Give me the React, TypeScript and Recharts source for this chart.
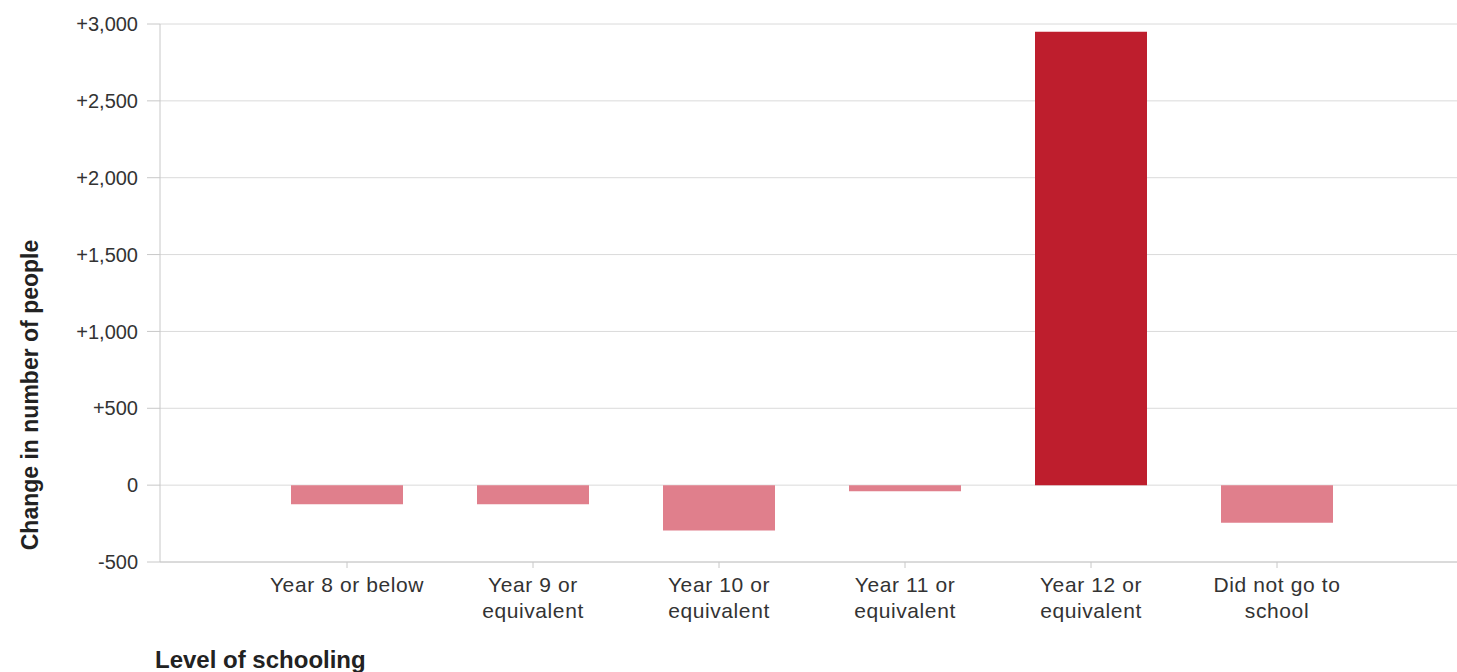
import { BarChart, Bar, XAxis, YAxis, CartesianGrid, Cell, Label } from 'recharts';

const categories = [
  'Year 8 or below',
  'Year 9 or\nequivalent',
  'Year 10 or\nequivalent',
  'Year 11 or\nequivalent',
  'Year 12 or\nequivalent',
  'Did not go to\nschool',
];
const changes = [-125, -125, -295, -40, 2950, -245];
const yTicks = [-500, 0, 500, 1000, 1500, 2000, 2500, 3000];

const data = categories.map((name, i) => ({ name, change: changes[i] }));

const FONT = '"Liberation Sans", Arial, sans-serif';

function fmt(v: number) {
  const s = Math.abs(v).toLocaleString('en-US');
  if (v > 0) return '+' + s;
  if (v < 0) return '-' + s;
  return '0';
}

function CategoryTick(props: any) {
  const { x, y, payload } = props;
  const lines = String(payload.value).split('\n');
  return (
    <text x={x} y={y} textAnchor="middle" fill="#333" fontSize={21} letterSpacing={0.6} fontFamily={FONT}>
      {lines.map((line, i) => (
        <tspan key={i} x={x} dy={i === 0 ? 24 : 26}>{line}</tspan>
      ))}
    </text>
  );
}

export default function App() {
  return (
    <div style={{ position: 'absolute', left: 0, top: 0, width: 1457, height: 672, background: '#fff' }}>
      <BarChart
        width={1457}
        height={672}
        data={data}
        margin={{ top: 24, right: 0, bottom: 0, left: 0 }}
        style={{ fontFamily: FONT }}
      >
        <CartesianGrid vertical={false} stroke="#dadada" />
        <XAxis
          dataKey="name"
          height={110}
          padding={{ left: 94, right: 87 }}
          tick={<CategoryTick />}
          tickSize={6}
          tickMargin={0}
          interval={0}
          stroke="#c8c8c8"
        >
          <Label
            content={() => (
              <text x={155} y={668} fill="#222" fontSize={24} fontWeight="bold" fontFamily={FONT}>
                Level of schooling
              </text>
            )}
          />
        </XAxis>
        <YAxis
          width={160}
          domain={[-500, 3000]}
          ticks={yTicks}
          tickFormatter={fmt}
          tickSize={13}
          tickMargin={9}
          tick={{ fill: '#333', fontSize: 20, fontFamily: FONT }}
          stroke="#c8c8c8"
          interval={0}
        >
          <Label
            content={() => (
              <text
                x={30}
                y={395}
                transform="rotate(-90 30 395)"
                textAnchor="middle"
                dominantBaseline="central"
                fill="#222"
                fontSize={23}
                fontWeight="bold"
                fontFamily={FONT}
              >
                Change in number of people
              </text>
            )}
          />
        </YAxis>
        <Bar dataKey="change" barSize={112} isAnimationActive={false}>
          {data.map((d, i) => (
            <Cell key={i} fill={d.change > 0 ? '#be1e2d' : '#e07f8c'} />
          ))}
        </Bar>
      </BarChart>
    </div>
  );
}
